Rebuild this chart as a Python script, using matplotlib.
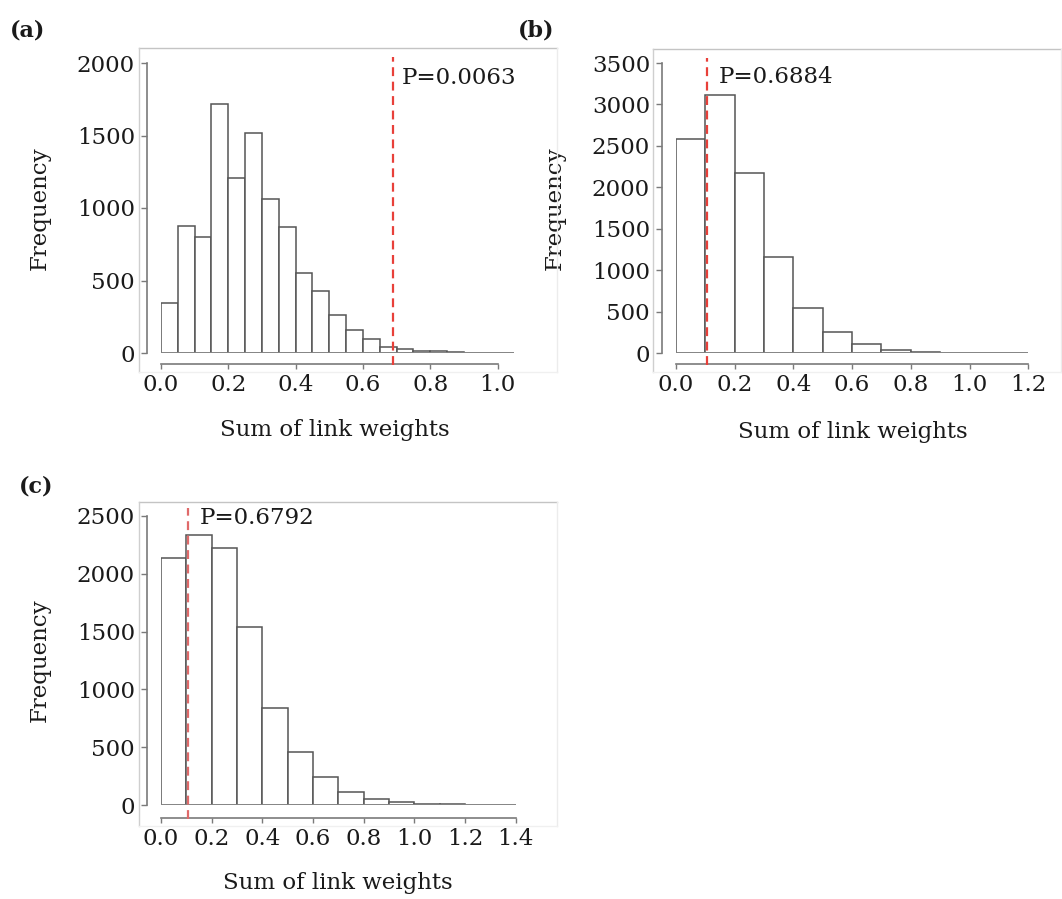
import matplotlib.pyplot as plt
from matplotlib.lines import Line2D

# histogram counts (bins start at 0)
a_width = 0.05
a_counts = [347, 874, 800, 1716, 1209, 1519, 1061, 869, 550, 428, 262,
            157, 98, 41, 25, 14, 14, 7, 2, 1, 1]
a_obs = 0.688
a_pval = "P=0.0063"
a_xticks = [0.0, 0.2, 0.4, 0.6, 0.8, 1.0]
a_yticks = [0, 500, 1000, 1500, 2000]

b_width = 0.1
b_counts = [2578, 3108, 2177, 1153, 546, 251, 113, 32, 12, 4, 2, 1]
b_obs = 0.106
b_pval = "P=0.6884"
b_xticks = [0.0, 0.2, 0.4, 0.6, 0.8, 1.0, 1.2]
b_yticks = [0, 500, 1000, 1500, 2000, 2500, 3000, 3500]

c_width = 0.1
c_counts = [2139, 2338, 2225, 1540, 841, 462, 243, 116, 49, 29, 12, 9, 3, 1]
c_obs = 0.107
c_pval = "P=0.6792"
c_xticks = [0.0, 0.2, 0.4, 0.6, 0.8, 1.0, 1.2, 1.4]
c_yticks = [0, 500, 1000, 1500, 2000, 2500]

W, H = 1062, 899
plt.rcParams['font.family'] = ['DejaVu Serif']
plt.rcParams['font.size'] = 16

fig = plt.figure(figsize=(W / 100, H / 100), dpi=100)

AXIS_GREY = '#7a7a7a'
TXT = '#1a1a1a'


def pt(px):
    return px * 72 / 100


def frame(x0, y0, x1, y1):
    # faint panel box drawn in figure pixels
    def line(xs, ys, c):
        fig.add_artist(Line2D([x / W for x in xs], [1 - y / H for y in ys],
                              color=c, lw=1, transform=fig.transFigure))
    line([x0, x1], [y0, y0], '#c4c4c4')
    line([x0, x0], [y0, y1], '#cfcfcf')
    line([x1, x1], [y0, y1], '#ececec')
    line([x0, x1], [y1, y1], '#f0f0f0')


def panel(counts, width, obs, pval, xticks, yticks, geo, red, tag):
    x0, unit, base, ytop_px, top_px, off_x, off_y = geo
    xmax = xticks[-1] if len(counts) * width < xticks[-1] else len(counts) * width
    ymax = yticks[-1] * (base - top_px) / (base - ytop_px)
    ax = fig.add_axes([x0 / W, 1 - base / H, unit * xmax / W, (base - top_px) / H])
    lefts = [i * width for i in range(len(counts))]
    ax.bar(lefts, counts, width=width, align='edge', color='white',
           edgecolor='#555555', linewidth=1.1, zorder=2)
    ax.axhline(0, color='#8a8a8a', lw=1.2, zorder=3)
    ax.set_xlim(0, xmax)
    ax.set_ylim(0, ymax)

    for s in ['top', 'right']:
        ax.spines[s].set_visible(False)
    ax.spines['left'].set_position(('outward', pt(off_x)))
    ax.spines['bottom'].set_position(('outward', pt(off_y)))
    ax.spines['left'].set_bounds(yticks[0], yticks[-1])
    ax.spines['bottom'].set_bounds(xticks[0], xticks[-1])
    for s in ['left', 'bottom']:
        ax.spines[s].set_color(AXIS_GREY)
        ax.spines[s].set_linewidth(1.2)

    ax.set_xticks(xticks)
    ax.set_xticklabels([f"{t:.1f}" for t in xticks])
    ax.set_yticks(yticks)
    ax.tick_params(axis='y', length=pt(6), width=1, color=AXIS_GREY,
                   pad=pt(6), labelsize=16.5, labelcolor=TXT)
    ax.tick_params(axis='x', length=pt(5), width=1, color=AXIS_GREY,
                   pad=pt(5), labelsize=16.5, labelcolor=TXT)

    # observed value, dashed red
    h = base - top_px
    ax.axvline(obs, ymin=-(off_y + 1) / h, ymax=1, color=red, lw=1.6,
               ls=(0, (4, 2.5)), clip_on=False, zorder=4)

    ax.set_ylabel("Frequency", fontsize=16.5, color=TXT, va='center')
    ax.set_xlabel("Sum of link weights", fontsize=16.5, color=TXT, va='center')
    return ax


geo_a = (161, 336.5, 353, 63, 57, 14, 11)
ax_a = panel(a_counts, a_width, a_obs, a_pval, a_xticks, a_yticks, geo_a, '#e8403a', 'a')
geo_b = (676, 293.5, 353, 63, 58, 14, 11)
ax_b = panel(b_counts, b_width, b_obs, b_pval, b_xticks, b_yticks, geo_b, '#e8403a', 'b')
geo_c = (161, 253.3, 805, 516, 508, 14, 13)
ax_c = panel(c_counts, c_width, c_obs, c_pval, c_xticks, c_yticks, geo_c, '#e06a6a', 'c')


def place(ax, geo, xmax, label_px, xl_px, p_px, pval):
    x0, unit, base, ytop_px, top_px, _, _ = geo
    wpx = unit * xmax
    hpx = base - top_px
    fx = lambda x: (x - x0) / wpx
    fy = lambda y: (base - y) / hpx
    ax.yaxis.set_label_coords(fx(label_px[0]), fy(label_px[1]))
    ax.xaxis.set_label_coords(fx(xl_px[0]), fy(xl_px[1]))
    ax.text(fx(p_px[0]), fy(p_px[1]), pval, transform=ax.transAxes,
            ha='left', va='center', fontsize=16.5, color=TXT)


place(ax_a, geo_a, 1.05, (40, 208), (335, 430), (402, 78), a_pval)
place(ax_b, geo_b, 1.2, (555, 208), (853, 432), (719, 77), b_pval)
place(ax_c, geo_c, 1.4, (40, 660), (338, 883), (200, 518), c_pval)

frame(139, 48, 557, 372)
frame(653, 49, 1061, 372)
frame(139, 502, 557, 826)

fig.text(28 / W, 1 - 30 / H, "(a)", fontweight='bold', fontsize=16,
         ha='center', va='center', color=TXT)
fig.text(536 / W, 1 - 30 / H, "(b)", fontweight='bold', fontsize=16,
         ha='center', va='center', color=TXT)
fig.text(36 / W, 1 - 487 / H, "(c)", fontweight='bold', fontsize=16,
         ha='center', va='center', color=TXT)

fig.savefig("out.png", dpi=100)
